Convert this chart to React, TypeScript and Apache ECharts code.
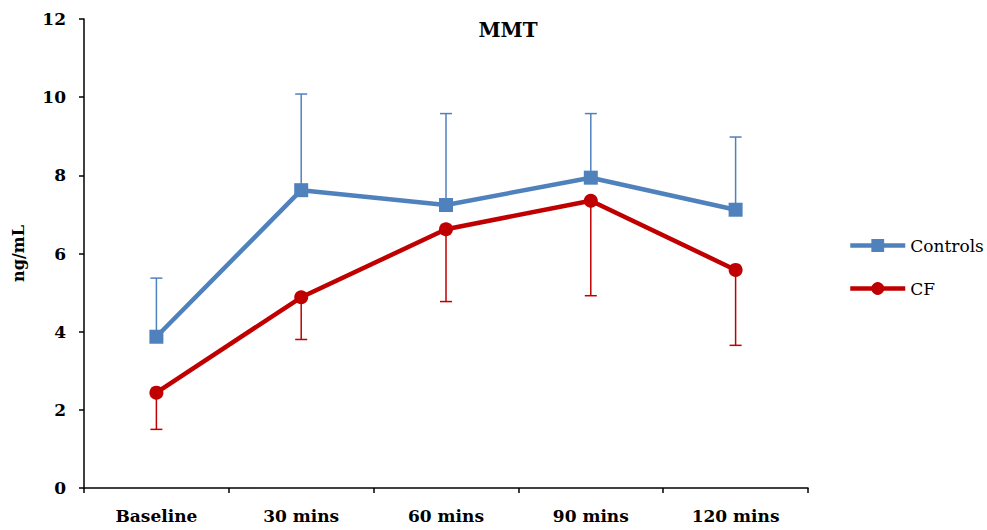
import React, { useEffect, useRef } from "react";
import * as echarts from "echarts";

const categories = ["Baseline", "30 mins", "60 mins", "90 mins", "120 mins"];
const controlsMean = [3.87, 7.62, 7.24, 7.94, 7.12];
const controlsUpper = [5.37, 10.08, 9.58, 9.58, 8.98];
const cfMean = [2.44, 4.88, 6.62, 7.35, 5.58];
const cfLower = [1.5, 3.8, 4.77, 4.92, 3.65];

const BLUE = "#4F81BD";
const RED = "#C00000";
const SERIF = "'DejaVu Serif', 'Liberation Serif', serif";

function errorBarSeries(name: string, color: string, lows: number[], highs: number[]) {
  return {
    type: "custom",
    name: name + " err",
    silent: true,
    z: 1,
    data: lows.map((lo, i) => [i, lo, highs[i]]),
    renderItem: (params: any, api: any) => {
      const x = api.value(0);
      const lo = api.coord([x, api.value(1)]);
      const hi = api.coord([x, api.value(2)]);
      const cap = 6;
      const style = { stroke: color, lineWidth: 1.5 };
      return {
        type: "group",
        children: [
          { type: "line", shape: { x1: lo[0], y1: lo[1], x2: hi[0], y2: hi[1] }, style },
          { type: "line", shape: { x1: lo[0] - cap, y1: lo[1], x2: lo[0] + cap, y2: lo[1] }, style },
          { type: "line", shape: { x1: hi[0] - cap, y1: hi[1], x2: hi[0] + cap, y2: hi[1] }, style },
        ],
      };
    },
  };
}

export default function App() {
  const ref = useRef<HTMLDivElement>(null);

  useEffect(() => {
    if (!ref.current) return;
    const chart = echarts.init(ref.current, undefined, { renderer: "svg" });
    chart.setOption({
      animation: false,
      backgroundColor: "#fff",
      grid: { left: 84, right: 179, top: 19, bottom: 42 },
      graphic: [
        {
          type: "text",
          x: 508,
          y: 30,
          style: {
            text: "MMT",
            font: `bold 20px ${SERIF}`,
            fill: "#000",
            textAlign: "center",
            textVerticalAlign: "middle",
          },
        },
      ],
      legend: {
        orient: "vertical",
        left: 848,
        top: 237,
        padding: 0,
        itemGap: 26,
        itemWidth: 55,
        itemHeight: 16,
        data: ["Controls", "CF"],
        lineStyle: { width: 4.5 },
        textStyle: { fontFamily: SERIF, fontSize: 17, color: "#000" },
      },
      xAxis: {
        type: "category",
        data: categories,
        boundaryGap: true,
        axisLine: { lineStyle: { color: "#000", width: 1.5 } },
        axisTick: { show: true, length: 5, inside: false, lineStyle: { color: "#000", width: 1.5 } },
        axisLabel: { color: "#000", fontFamily: SERIF, fontWeight: "bold", fontSize: 17, margin: 19 },
        splitLine: { show: false },
      },
      yAxis: {
        type: "value",
        min: 0,
        max: 12,
        interval: 2,
        name: "ng/mL",
        nameLocation: "middle",
        nameGap: 58,
        nameRotate: 90,
        nameTextStyle: { color: "#000", fontFamily: SERIF, fontWeight: "bold", fontSize: 16 },
        axisLine: { show: true, lineStyle: { color: "#000", width: 1.5 } },
        axisTick: { show: true, length: 5, lineStyle: { color: "#000", width: 1.5 } },
        axisLabel: { color: "#000", fontFamily: SERIF, fontWeight: "bold", fontSize: 17, margin: 18 },
        splitLine: { show: false },
      },
      series: [
        errorBarSeries("Controls", BLUE, controlsMean, controlsUpper),
        errorBarSeries("CF", RED, cfLower, cfMean),
        {
          name: "Controls",
          type: "line",
          data: controlsMean,
          symbol: "rect",
          symbolSize: 14,
          z: 3,
          itemStyle: { color: BLUE },
          lineStyle: { color: BLUE, width: 4.5 },
        },
        {
          name: "CF",
          type: "line",
          data: cfMean,
          symbol: "circle",
          symbolSize: 14,
          z: 4,
          itemStyle: { color: RED },
          lineStyle: { color: RED, width: 4.5 },
        },
      ],
    });
    return () => chart.dispose();
  }, []);

  return (
    <div
      ref={ref}
      style={{ position: "absolute", left: 0, top: 0, width: 987, height: 530 }}
    />
  );
}
